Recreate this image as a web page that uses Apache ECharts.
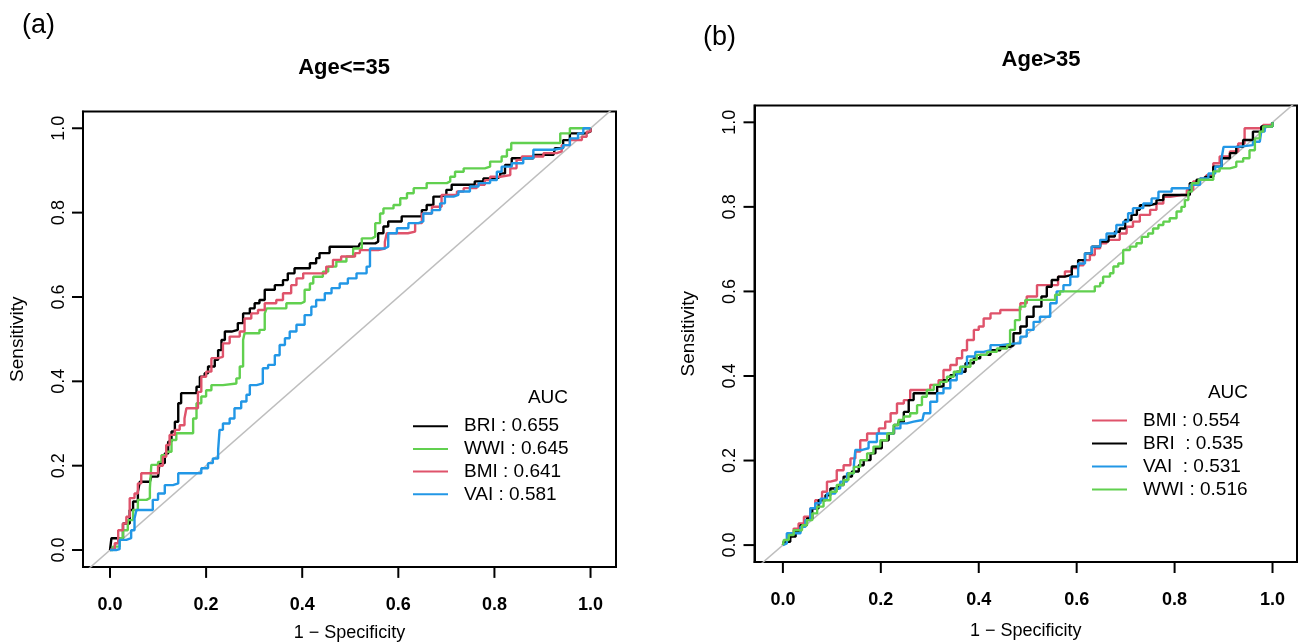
<!DOCTYPE html>
<html>
<head>
<meta charset="utf-8">
<script src="https://cdn.jsdelivr.net/npm/echarts@6/dist/echarts.min.js"></script>
<style>
html,body{margin:0;padding:0;background:#fff;}
#chart{width:1306px;height:642px;}
</style>
</head>
<body>
<div id="chart"></div>
<script>
// ---- data ([1 - specificity, sensitivity]) ----
const TICKS = [0, 0.2, 0.4, 0.6, 0.8, 1.0];

const leftNames = ['BRI : 0.655', 'WWI : 0.645', 'BMI : 0.641', 'VAI : 0.581'];
const rightNames = ['BMI : 0.554', 'BRI  : 0.535', 'VAI  : 0.531', 'WWI : 0.516'];

const leftBRI = [[0,0],[0.003,0.028],[0.027,0.063],[0.041,0.095],[0.048,0.115],[0.058,0.138],[0.062,0.162],[0.083,0.162],[0.086,0.174],[0.1,0.178],[0.103,0.206],[0.114,0.229],[0.121,0.257],[0.128,0.281],[0.135,0.304],[0.142,0.348],[0.148,0.372],[0.173,0.372],[0.18,0.387],[0.187,0.411],[0.197,0.419],[0.204,0.435],[0.218,0.451],[0.225,0.474],[0.232,0.498],[0.239,0.518],[0.253,0.522],[0.266,0.538],[0.277,0.561],[0.291,0.573],[0.301,0.585],[0.311,0.593],[0.322,0.617],[0.343,0.628],[0.36,0.64],[0.37,0.656],[0.384,0.668],[0.416,0.68],[0.429,0.692],[0.436,0.704],[0.457,0.719],[0.517,0.719],[0.52,0.727],[0.552,0.731],[0.558,0.751],[0.569,0.767],[0.579,0.779],[0.607,0.791],[0.642,0.791],[0.649,0.806],[0.659,0.818],[0.673,0.838],[0.686,0.842],[0.7,0.854],[0.711,0.866],[0.759,0.874],[0.777,0.881],[0.805,0.885],[0.812,0.893],[0.822,0.913],[0.836,0.929],[0.881,0.937],[0.923,0.941],[0.926,0.953],[0.943,0.972],[0.957,0.988],[0.989,0.992],[1,1]];

const leftWWI = [[0,0],[0.006,0.008],[0.02,0.028],[0.027,0.047],[0.037,0.071],[0.048,0.095],[0.058,0.119],[0.076,0.123],[0.083,0.146],[0.086,0.202],[0.1,0.209],[0.107,0.225],[0.117,0.233],[0.128,0.261],[0.138,0.277],[0.166,0.277],[0.173,0.312],[0.18,0.348],[0.19,0.364],[0.2,0.379],[0.211,0.391],[0.235,0.395],[0.263,0.407],[0.27,0.435],[0.277,0.498],[0.28,0.514],[0.311,0.522],[0.322,0.561],[0.326,0.573],[0.367,0.585],[0.398,0.589],[0.405,0.617],[0.416,0.632],[0.423,0.648],[0.443,0.66],[0.454,0.672],[0.471,0.684],[0.492,0.696],[0.506,0.715],[0.524,0.739],[0.545,0.743],[0.552,0.775],[0.562,0.798],[0.569,0.81],[0.59,0.818],[0.604,0.834],[0.618,0.846],[0.632,0.858],[0.659,0.87],[0.701,0.874],[0.708,0.885],[0.718,0.897],[0.736,0.905],[0.78,0.909],[0.791,0.921],[0.815,0.933],[0.826,0.949],[0.835,0.965],[0.926,0.965],[0.937,0.988],[0.957,1],[1,1]];

const leftBMI = [[0,0],[0.003,0.002],[0.01,0.016],[0.017,0.047],[0.027,0.063],[0.034,0.079],[0.041,0.123],[0.051,0.134],[0.058,0.158],[0.065,0.182],[0.083,0.182],[0.1,0.2],[0.11,0.221],[0.117,0.249],[0.124,0.273],[0.135,0.285],[0.145,0.296],[0.155,0.312],[0.159,0.336],[0.173,0.336],[0.183,0.375],[0.19,0.411],[0.2,0.423],[0.211,0.455],[0.225,0.458],[0.235,0.49],[0.249,0.506],[0.27,0.518],[0.28,0.549],[0.294,0.561],[0.308,0.569],[0.322,0.585],[0.346,0.593],[0.36,0.609],[0.377,0.628],[0.388,0.644],[0.402,0.656],[0.436,0.656],[0.45,0.672],[0.464,0.688],[0.481,0.696],[0.51,0.704],[0.52,0.711],[0.558,0.715],[0.572,0.731],[0.576,0.751],[0.62,0.755],[0.635,0.775],[0.649,0.798],[0.67,0.814],[0.69,0.842],[0.722,0.85],[0.736,0.858],[0.763,0.866],[0.78,0.877],[0.791,0.885],[0.812,0.889],[0.833,0.905],[0.846,0.925],[0.857,0.933],[0.902,0.941],[0.93,0.945],[0.94,0.96],[0.957,0.972],[0.982,0.98],[0.992,0.992],[1,1]];

const leftVAI = [[0,0],[0.013,0.002],[0.02,0.024],[0.034,0.028],[0.044,0.047],[0.051,0.075],[0.055,0.095],[0.083,0.095],[0.089,0.119],[0.1,0.134],[0.114,0.154],[0.131,0.158],[0.142,0.182],[0.18,0.182],[0.19,0.194],[0.204,0.206],[0.214,0.217],[0.225,0.237],[0.228,0.285],[0.235,0.3],[0.249,0.312],[0.259,0.336],[0.273,0.352],[0.284,0.368],[0.291,0.391],[0.305,0.395],[0.318,0.431],[0.329,0.439],[0.343,0.462],[0.353,0.486],[0.364,0.502],[0.374,0.518],[0.388,0.534],[0.405,0.557],[0.419,0.577],[0.429,0.593],[0.447,0.609],[0.461,0.621],[0.478,0.632],[0.495,0.644],[0.513,0.656],[0.534,0.672],[0.541,0.715],[0.572,0.719],[0.579,0.751],[0.597,0.763],[0.621,0.775],[0.642,0.779],[0.652,0.798],[0.67,0.806],[0.687,0.822],[0.697,0.838],[0.715,0.842],[0.725,0.85],[0.749,0.862],[0.767,0.87],[0.791,0.877],[0.805,0.897],[0.815,0.909],[0.836,0.917],[0.86,0.929],[0.881,0.949],[0.923,0.953],[0.943,0.96],[0.957,0.976],[0.974,0.988],[0.985,1],[1,1]];

const rightBMI = [[0,0],[0.002,0.008],[0.012,0.028],[0.022,0.039],[0.032,0.051],[0.043,0.067],[0.056,0.087],[0.066,0.106],[0.08,0.126],[0.09,0.15],[0.097,0.154],[0.11,0.177],[0.124,0.189],[0.138,0.205],[0.148,0.221],[0.158,0.248],[0.172,0.264],[0.182,0.264],[0.196,0.276],[0.209,0.292],[0.22,0.312],[0.233,0.335],[0.247,0.343],[0.26,0.367],[0.288,0.367],[0.301,0.379],[0.318,0.39],[0.328,0.414],[0.342,0.426],[0.355,0.442],[0.366,0.461],[0.376,0.485],[0.39,0.509],[0.4,0.517],[0.41,0.536],[0.424,0.548],[0.444,0.556],[0.471,0.556],[0.485,0.572],[0.498,0.588],[0.519,0.615],[0.562,0.635],[0.576,0.647],[0.59,0.655],[0.603,0.662],[0.614,0.674],[0.627,0.686],[0.637,0.702],[0.648,0.714],[0.661,0.722],[0.675,0.722],[0.688,0.737],[0.702,0.753],[0.715,0.765],[0.729,0.781],[0.75,0.793],[0.763,0.808],[0.777,0.824],[0.791,0.828],[0.814,0.828],[0.825,0.84],[0.838,0.86],[0.852,0.867],[0.865,0.875],[0.879,0.903],[0.892,0.919],[0.913,0.931],[0.93,0.95],[0.943,0.986],[0.971,0.986],[0.981,0.994],[1,1]];

const rightBRI = [[0,0],[0.002,0.008],[0.015,0.02],[0.026,0.032],[0.036,0.047],[0.049,0.063],[0.06,0.087],[0.073,0.106],[0.087,0.118],[0.097,0.134],[0.114,0.142],[0.124,0.162],[0.141,0.174],[0.155,0.189],[0.165,0.201],[0.179,0.217],[0.189,0.229],[0.202,0.248],[0.216,0.264],[0.227,0.284],[0.236,0.292],[0.247,0.315],[0.257,0.343],[0.267,0.359],[0.301,0.359],[0.315,0.375],[0.328,0.39],[0.342,0.402],[0.355,0.41],[0.373,0.43],[0.39,0.442],[0.403,0.45],[0.424,0.461],[0.444,0.469],[0.465,0.473],[0.471,0.501],[0.485,0.517],[0.498,0.54],[0.512,0.564],[0.528,0.588],[0.539,0.611],[0.549,0.627],[0.562,0.635],[0.576,0.639],[0.59,0.659],[0.603,0.674],[0.617,0.69],[0.631,0.706],[0.648,0.718],[0.665,0.73],[0.678,0.741],[0.688,0.749],[0.699,0.769],[0.712,0.781],[0.723,0.793],[0.729,0.804],[0.75,0.808],[0.763,0.816],[0.777,0.828],[0.814,0.828],[0.831,0.856],[0.845,0.864],[0.862,0.871],[0.879,0.895],[0.896,0.915],[0.913,0.927],[0.926,0.942],[0.94,0.958],[0.96,0.978],[0.977,0.99],[1,1]];

const rightVAI = [[0,0],[0.002,0.004],[0.008,0.028],[0.022,0.028],[0.036,0.043],[0.046,0.059],[0.056,0.087],[0.066,0.099],[0.077,0.11],[0.09,0.122],[0.107,0.134],[0.117,0.15],[0.131,0.17],[0.145,0.189],[0.148,0.225],[0.162,0.229],[0.175,0.244],[0.192,0.264],[0.216,0.264],[0.226,0.276],[0.24,0.288],[0.253,0.292],[0.267,0.296],[0.285,0.296],[0.288,0.312],[0.301,0.339],[0.315,0.359],[0.328,0.371],[0.342,0.39],[0.355,0.406],[0.366,0.422],[0.376,0.446],[0.393,0.457],[0.41,0.461],[0.424,0.473],[0.444,0.477],[0.475,0.477],[0.485,0.493],[0.498,0.509],[0.512,0.528],[0.525,0.54],[0.546,0.572],[0.559,0.6],[0.573,0.615],[0.587,0.635],[0.603,0.666],[0.617,0.69],[0.631,0.706],[0.648,0.722],[0.661,0.737],[0.681,0.757],[0.695,0.765],[0.705,0.785],[0.715,0.797],[0.736,0.808],[0.753,0.82],[0.767,0.836],[0.794,0.844],[0.821,0.844],[0.832,0.852],[0.852,0.867],[0.869,0.879],[0.883,0.895],[0.896,0.915],[0.9,0.942],[0.93,0.946],[0.96,0.954],[0.974,0.954],[0.977,0.978],[0.984,0.99],[1,1]];

const rightWWI = [[0,0],[0.002,0.012],[0.012,0.024],[0.022,0.035],[0.039,0.047],[0.049,0.059],[0.06,0.075],[0.07,0.091],[0.083,0.106],[0.097,0.126],[0.11,0.142],[0.124,0.154],[0.134,0.17],[0.145,0.185],[0.158,0.201],[0.172,0.217],[0.185,0.233],[0.199,0.248],[0.213,0.264],[0.226,0.284],[0.236,0.296],[0.247,0.304],[0.26,0.312],[0.274,0.331],[0.284,0.351],[0.294,0.367],[0.308,0.379],[0.321,0.386],[0.335,0.398],[0.349,0.41],[0.362,0.422],[0.383,0.438],[0.396,0.45],[0.417,0.457],[0.437,0.465],[0.458,0.473],[0.464,0.509],[0.474,0.532],[0.484,0.564],[0.495,0.58],[0.545,0.58],[0.556,0.592],[0.566,0.6],[0.627,0.6],[0.637,0.612],[0.648,0.62],[0.654,0.635],[0.668,0.643],[0.675,0.659],[0.685,0.666],[0.695,0.698],[0.709,0.706],[0.722,0.714],[0.733,0.729],[0.746,0.737],[0.756,0.749],[0.767,0.757],[0.777,0.765],[0.79,0.773],[0.804,0.789],[0.814,0.8],[0.821,0.816],[0.828,0.836],[0.835,0.856],[0.849,0.864],[0.865,0.864],[0.879,0.884],[0.892,0.891],[0.913,0.895],[0.926,0.907],[0.94,0.915],[0.953,0.934],[0.964,0.962],[0.974,0.978],[0.981,0.99],[1,1]];

const diagonal = [[-0.2,-0.2],[1.2,1.2]];

// ---- axis ranges (R-style padded extents) ----
const X_RANGE = [[-0.0562, 1.053], [-0.058, 1.05]];
const Y_RANGE = [-0.04, 1.04];

// ---- styling ----
const FONT = 'Liberation Sans, Arial, Helvetica, sans-serif';
const COL = { BRI: '#000000', WWI: '#61D04F', BMI: '#DF536B', VAI: '#2297E6' };
const TICK_LEN = 11;

function xAxisCfg(idx, gap) {
  return {
    type: 'value', gridIndex: idx, min: X_RANGE[idx][0], max: X_RANGE[idx][1],
    axisLine: { show: true, onZero: false, lineStyle: { color: '#000', width: 2 } },
    axisTick: { show: false },
    axisLabel: { customValues: TICKS, formatter: v => v.toFixed(1), fontSize: 18, fontWeight: 'bold', color: '#000', margin: 29, fontFamily: FONT },
    splitLine: { show: false },
    name: '1 \u2212 Specificity', nameLocation: 'middle', nameGap: gap,
    nameTextStyle: { fontSize: 18, color: '#000', fontFamily: FONT }
  };
}
function yAxisCfg(idx) {
  return {
    type: 'value', gridIndex: idx, min: Y_RANGE[0], max: Y_RANGE[1],
    axisLine: { show: true, onZero: false, lineStyle: { color: '#000', width: 2 } },
    axisTick: { show: false },
    axisLabel: { customValues: TICKS, formatter: v => v.toFixed(1), fontSize: 18, color: '#000', margin: 15, rotate: 90, fontFamily: FONT },
    splitLine: { show: false },
    name: 'Sensitivity', nameLocation: 'middle', nameGap: 56,
    nameTextStyle: { fontSize: 19, color: '#000', fontFamily: FONT }
  };
}
function curve(name, data, color, idx) {
  return {
    type: 'line', name: name, data: data, xAxisIndex: idx, yAxisIndex: idx,
    step: 'end', showSymbol: false, symbol: 'none', color: color,
    lineStyle: { color: color, width: 2.4 }, z: 3, silent: true
  };
}
function diag(idx) {
  return {
    type: 'line', data: diagonal, xAxisIndex: idx, yAxisIndex: idx, showSymbol: false, symbol: 'none',
    lineStyle: { color: '#BEBEBE', width: 1.5 }, z: 2, silent: true, clip: true
  };
}
function legendCfg(names, left, top, gap) {
  return {
    orient: 'vertical', left: left, top: top, padding: 0, itemWidth: 35, itemHeight: 2, itemGap: gap,
    icon: 'rect', data: names, selectedMode: false,
    textStyle: { fontSize: 19, color: '#000', fontFamily: FONT, lineHeight: 18, padding: [0, 0, 0, 11] }
  };
}
function label(text, x, top, size, weight, align) {
  return { text: text, left: x, top: top, padding: 0, textAlign: align,
    textStyle: { fontSize: size, fontWeight: weight, color: '#000', fontFamily: FONT } };
}

const chart = echarts.init(document.getElementById('chart'), null, { renderer: 'canvas' });
chart.setOption({
  animation: false,
  backgroundColor: '#fff',
  title: [
    label('(a)', 22, 12, 27, 'normal', 'left'),
    label('(b)', 703, 24, 27, 'normal', 'left'),
    label('Age<=35', 344, 57, 22, 'bold', 'center'),
    label('Age>35', 1041, 49, 22, 'bold', 'center'),
    label('AUC', 548, 388, 19, 'normal', 'center'),
    label('AUC', 1228, 383, 19, 'normal', 'center')
  ],
  grid: [
    { left: 83, top: 111.4, width: 533, height: 455.5, outerBoundsMode: 'none', show: true, borderColor: '#000', borderWidth: 2, backgroundColor: 'transparent' },
    { left: 754.5, top: 105.4, width: 542.5, height: 456.6, outerBoundsMode: 'none', show: true, borderColor: '#000', borderWidth: 2, backgroundColor: 'transparent' }
  ],
  xAxis: [xAxisCfg(0, 57), xAxisCfg(1, 60)],
  yAxis: [yAxisCfg(0), yAxisCfg(1)],
  legend: [legendCfg(leftNames, 413, 416.7, 3.7), legendCfg(rightNames, 1092, 411, 4)],
  series: [
    diag(0),
    curve(leftNames[0], leftBRI, COL.BRI, 0),
    curve(leftNames[1], leftWWI, COL.WWI, 0),
    curve(leftNames[2], leftBMI, COL.BMI, 0),
    curve(leftNames[3], leftVAI, COL.VAI, 0),
    diag(1),
    curve(rightNames[0], rightBMI, COL.BMI, 1),
    curve(rightNames[1], rightBRI, COL.BRI, 1),
    curve(rightNames[2], rightVAI, COL.VAI, 1),
    curve(rightNames[3], rightWWI, COL.WWI, 1)
  ]
});

// Outward tick marks at TICKS, positioned through each grid's own scales (convertToPixel).
const tickGraphics = [];
[0, 1].forEach(function (g) {
  TICKS.forEach(function (v) {
    const px = chart.convertToPixel({ gridIndex: g }, [v, Y_RANGE[0]]);
    tickGraphics.push({ type: 'line', silent: true, z: 100,
      shape: { x1: px[0], y1: px[1], x2: px[0], y2: px[1] + TICK_LEN },
      style: { stroke: '#000', lineWidth: 2 } });
    const py = chart.convertToPixel({ gridIndex: g }, [X_RANGE[g][0], v]);
    tickGraphics.push({ type: 'line', silent: true, z: 100,
      shape: { x1: py[0], y1: py[1], x2: py[0] - TICK_LEN, y2: py[1] },
      style: { stroke: '#000', lineWidth: 2 } });
  });
});
chart.setOption({ graphic: tickGraphics });
</script>
</body>
</html>
